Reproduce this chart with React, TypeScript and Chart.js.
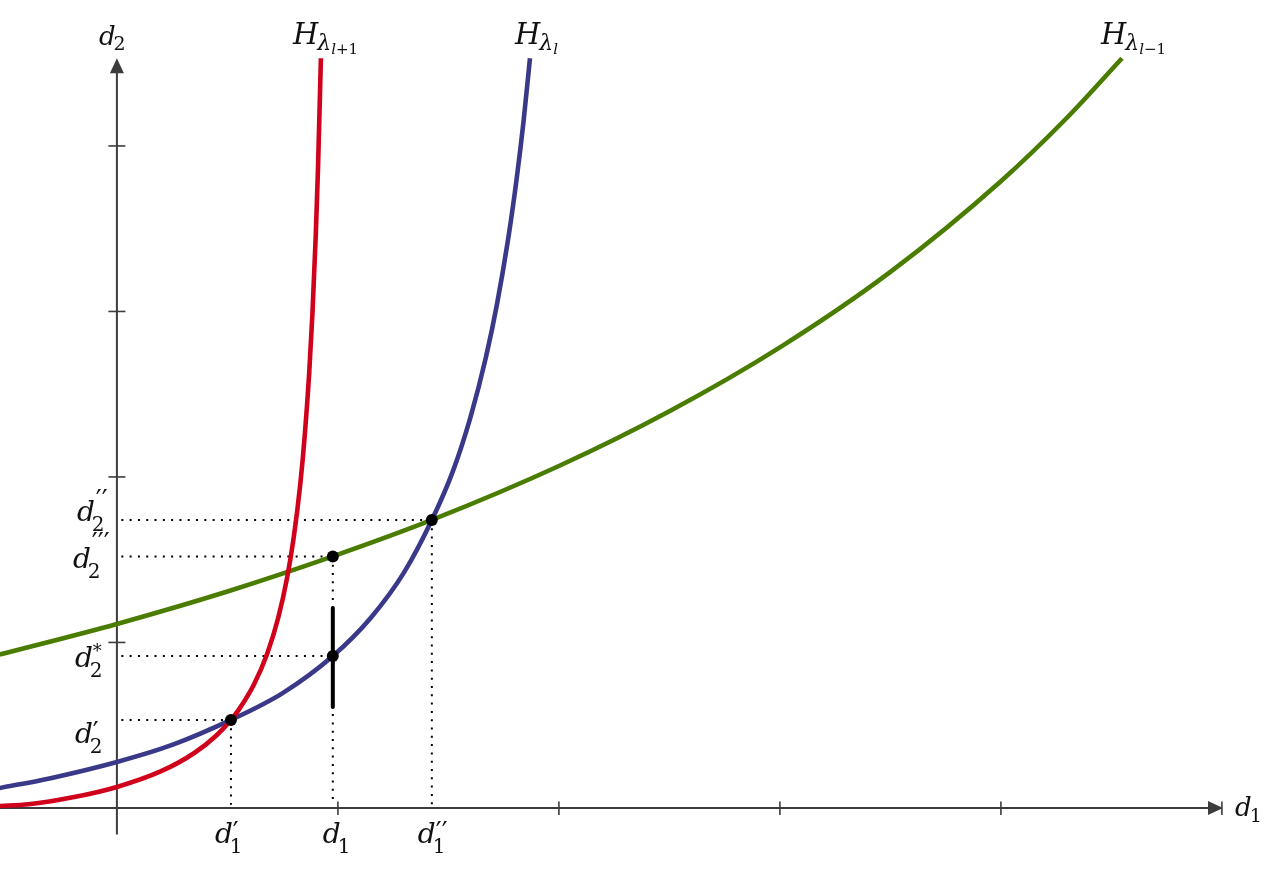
import React, { useEffect, useRef } from 'react';
import { Chart, registerables } from 'chart.js';

Chart.register(...registerables);

const W = 1267;
const H = 870;

// visible data window
const xRange = [-0.529, 5.204];
const yRange = [-0.375, 4.882];

// curve H_{λ_{l+1}} (red)
const redX = [-0.53, -0.4, -0.2, 0, 0.2, 0.35, 0.45, 0.516, 0.55, 0.62, 0.68, 0.73, 0.77, 0.8, 0.83, 0.85, 0.87, 0.885, 0.9, 0.91, 0.923];
const redY = [0.012, 0.022, 0.064, 0.127, 0.222, 0.332, 0.438, 0.532, 0.591, 0.746, 0.932, 1.149, 1.39, 1.634, 1.961, 2.251, 2.628, 2.994, 3.467, 3.868, 4.53];

// curve H_{λ_l} (blue)
const blueX = [-0.53, -0.3, 0, 0.25, 0.516, 0.75, 0.977, 1.15, 1.3, 1.425, 1.52, 1.6, 1.67, 1.72, 1.77, 1.81, 1.84, 1.869];
const blueY = [0.12, 0.18, 0.278, 0.381, 0.532, 0.694, 0.918, 1.151, 1.425, 1.74, 2.034, 2.362, 2.725, 3.045, 3.435, 3.814, 4.149, 4.53];

// curve H_{λ_{l-1}} (green)
const greenX = [-0.53, 0, 0.5, 0.977, 1.425, 2.0, 2.5, 3.0, 3.5, 4.0, 4.3, 4.548];
const greenY = [0.927, 1.112, 1.308, 1.52, 1.74, 2.066, 2.397, 2.783, 3.239, 3.787, 4.172, 4.53];

// marked points: (d1', d2'), (d1, d2*), (d1, d2'''), (d1'', d2'')
const markX = [0.516, 0.977, 0.977, 1.425];
const markY = [0.532, 0.918, 1.52, 1.74];

// vertical black segment at d1
const segX = [0.977, 0.977];
const segY = [0.61, 1.208];

// axis ticks
const xTicks = [1, 2, 3, 4, 5];
const yTicks = [1, 2, 3, 4];
const xAxisEnd = 5.005;
const yAxisEnd = 4.53;
const yAxisStart = -0.16;

const RED = '#D0021B';
const BLUE = '#3A3888';
const GREEN = '#4A7C00';
const AXIS = '#3c3c3c';
const TEXT = '#111111';
const FONT = '"DejaVu Serif", "Liberation Serif", serif';
const PFONT = '"DejaVu Sans", sans-serif';

type Run = { t: string; s: number; i?: boolean; dy?: number; dx?: number; keep?: boolean; f?: string };
type Label = { ax: number; ay: number; ox: number; oy: number; runs: Run[] };

const B = 28; // base size
const S = 20; // script size
const SS = 15; // second-level script
const P = 26; // prime size

const curveLabels: Label[] = [
  { ax: redX[redX.length - 1], ay: redY[redY.length - 1], ox: -28, oy: -14,
    runs: [{ t: 'H', s: B + 1, i: true }, { t: 'λ', s: 22, i: true, dy: 6, dx: -1 }, { t: 'l', s: SS, i: true, dy: 10 }, { t: '+1', s: SS, dy: 10 }] },
  { ax: blueX[blueX.length - 1], ay: blueY[blueY.length - 1], ox: -15, oy: -14,
    runs: [{ t: 'H', s: B + 1, i: true }, { t: 'λ', s: 22, i: true, dy: 6, dx: -1 }, { t: 'l', s: SS, i: true, dy: 10 }] },
  { ax: greenX[greenX.length - 1], ay: greenY[greenY.length - 1], ox: -21, oy: -14,
    runs: [{ t: 'H', s: B + 1, i: true }, { t: 'λ', s: 22, i: true, dy: 6, dx: -1 }, { t: 'l', s: SS, i: true, dy: 10 }, { t: '−1', s: SS, dy: 10 }] },
];

const axisLabels: Label[] = [
  { ax: 0, ay: yAxisEnd, ox: -18, oy: -13, runs: [{ t: 'd', s: 26, i: true }, { t: '2', s: 19, dy: 5, dx: -2 }] },
  { ax: xAxisEnd, ay: 0, ox: 12, oy: 8, runs: [{ t: 'd', s: 26, i: true }, { t: '1', s: 19, dy: 6, dx: -2 }] },
];

const xTickLabels: Label[] = [
  { ax: markX[0], ay: 0, ox: -16, oy: 35, runs: [{ t: 'd', s: B, i: true }, { t: '′', s: P, f: PFONT, dy: -2, keep: true, dx: 0 }, { t: '1', s: S, dy: 10, dx: -3 }] },
  { ax: markX[1], ay: 0, ox: -10, oy: 35, runs: [{ t: 'd', s: B, i: true }, { t: '1', s: S, dy: 10, dx: -3 }] },
  { ax: markX[3], ay: 0, ox: -14, oy: 35, runs: [{ t: 'd', s: B, i: true }, { t: '′′', s: P, f: PFONT, dy: -2, keep: true, dx: 0 }, { t: '1', s: S, dy: 10, dx: -3 }] },
];

const yTickLabels: Label[] = [
  { ax: 0, ay: markY[3], ox: -40, oy: 1, runs: [{ t: 'd', s: B, i: true }, { t: '′′', s: P, f: PFONT, dy: -12, keep: true, dx: 1 }, { t: '2', s: S, dy: 10, dx: -3 }] },
  { ax: 0, ay: markY[2], ox: -44, oy: 12, runs: [{ t: 'd', s: B, i: true }, { t: '′′′', s: P, f: PFONT, dy: -16, keep: true, dx: 1 }, { t: '2', s: S, dy: 10, dx: -3 }] },
  { ax: 0, ay: markY[1], ox: -42, oy: 11, runs: [{ t: 'd', s: B, i: true }, { t: '*', s: 18, dy: -10, keep: true, dx: 0 }, { t: '2', s: S, dy: 10, dx: -3 }] },
  { ax: 0, ay: markY[0], ox: -42, oy: 23, runs: [{ t: 'd', s: B, i: true }, { t: '′', s: P, f: PFONT, dy: -2, keep: true, dx: 0 }, { t: '2', s: S, dy: 10, dx: -3 }] },
];

const allLabels = [...curveLabels, ...axisLabels, ...xTickLabels, ...yTickLabels];

function pts(xs: number[], ys: number[]) {
  return xs.map((x, k) => ({ x, y: ys[k] }));
}

const overlay = {
  id: 'overlay',
  beforeDatasetsDraw(chart: any) {
    const { ctx, scales } = chart;
    const px = (v: number) => scales.x.getPixelForValue(v);
    const py = (v: number) => scales.y.getPixelForValue(v);
    ctx.save();
    ctx.strokeStyle = AXIS;
    ctx.fillStyle = AXIS;
    ctx.lineWidth = 2;
    const x0 = px(0);
    const y0 = py(0);
    // x axis
    const xe = px(xAxisEnd);
    ctx.beginPath();
    ctx.moveTo(px(xRange[0]), y0);
    ctx.lineTo(xe - 12, y0);
    ctx.stroke();
    ctx.beginPath();
    ctx.moveTo(xe, y0);
    ctx.lineTo(xe - 15, y0 - 7);
    ctx.lineTo(xe - 15, y0 + 7);
    ctx.closePath();
    ctx.fill();
    // y axis
    const ye = py(yAxisEnd);
    ctx.beginPath();
    ctx.moveTo(x0, py(yAxisStart));
    ctx.lineTo(x0, ye + 12);
    ctx.stroke();
    ctx.beginPath();
    ctx.moveTo(x0, ye);
    ctx.lineTo(x0 - 7, ye + 15);
    ctx.lineTo(x0 + 7, ye + 15);
    ctx.closePath();
    ctx.fill();
    // ticks
    ctx.lineWidth = 1.6;
    xTicks.forEach((t) => {
      const p = px(t);
      ctx.beginPath();
      ctx.moveTo(p, y0 - 6.5);
      ctx.lineTo(p, y0 + 7);
      ctx.stroke();
    });
    yTicks.forEach((t) => {
      const p = py(t);
      ctx.beginPath();
      ctx.moveTo(x0 - 8.5, p);
      ctx.lineTo(x0 + 8.5, p);
      ctx.stroke();
    });
    ctx.restore();
  },
  afterDatasetsDraw(chart: any) {
    const { ctx, scales } = chart;
    const px = (v: number) => scales.x.getPixelForValue(v);
    const py = (v: number) => scales.y.getPixelForValue(v);
    ctx.save();
    ctx.fillStyle = TEXT;
    ctx.textBaseline = 'alphabetic';
    ctx.textAlign = 'left';
    allLabels.forEach((lab) => {
      let cx = px(lab.ax) + lab.ox;
      const by = py(lab.ay) + lab.oy;
      lab.runs.forEach((r) => {
        ctx.font = `${r.i ? 'italic ' : ''}${r.s}px ${r.f || FONT}`;
        const x = cx + (r.dx || 0);
        ctx.fillText(r.t, x, by + (r.dy || 0));
        if (!r.keep) cx = x + ctx.measureText(r.t).width;
      });
    });
    ctx.restore();
  },
};

export default function App() {
  const ref = useRef<HTMLCanvasElement>(null);
  useEffect(() => {
    const dotted: any[] = [];
    markX.forEach((mx, k) => {
      dotted.push({ data: [{ x: 0.02, y: markY[k] }, { x: mx, y: markY[k] }] });
    });
    const seen = new Set<number>();
    markX.forEach((mx, k) => {
      if (seen.has(mx)) return;
      seen.add(mx);
      let top = markY[k];
      markX.forEach((m2, j) => { if (m2 === mx && markY[j] > top) top = markY[j]; });
      dotted.push({ data: [{ x: mx, y: top }, { x: mx, y: 0.02 }] });
    });
    const dottedSets = dotted.map((d) => ({
      ...d,
      showLine: true,
      borderColor: '#000',
      borderWidth: 2,
      borderDash: [2, 6.3],
      borderCapStyle: 'butt',
      pointRadius: 0,
    }));
    const curve = (xs: number[], ys: number[], color: string) => ({
      data: pts(xs, ys),
      showLine: true,
      borderColor: color,
      borderWidth: 4.6,
      pointRadius: 0,
      cubicInterpolationMode: 'monotone',
      borderCapStyle: 'butt',
    });
    const chart = new Chart(ref.current as HTMLCanvasElement, {
      type: 'scatter',
      data: {
        datasets: [
          { data: pts(markX, markY), pointRadius: 6, pointBackgroundColor: '#000', pointBorderWidth: 0, showLine: false },
          { data: pts(segX, segY), showLine: true, borderColor: '#000', borderWidth: 4, borderCapStyle: 'round', pointRadius: 0 },
          curve(redX, redY, RED),
          curve(blueX, blueY, BLUE),
          curve(greenX, greenY, GREEN),
          ...dottedSets,
        ] as any,
      },
      options: {
        animation: false,
        responsive: false,
        maintainAspectRatio: false,
        layout: { padding: 0, autoPadding: false },
        events: [],
        plugins: { legend: { display: false }, tooltip: { enabled: false } },
        scales: {
          x: { type: 'linear', min: xRange[0], max: xRange[1], display: false },
          y: { type: 'linear', min: yRange[0], max: yRange[1], display: false },
        },
      },
      plugins: [overlay],
    });
    return () => chart.destroy();
  }, []);
  return (
    <div style={{ position: 'absolute', left: 0, top: 0, width: W, height: H, background: '#fff' }}>
      <canvas ref={ref} width={W} height={H} style={{ width: W, height: H, display: 'block' }} />
    </div>
  );
}
